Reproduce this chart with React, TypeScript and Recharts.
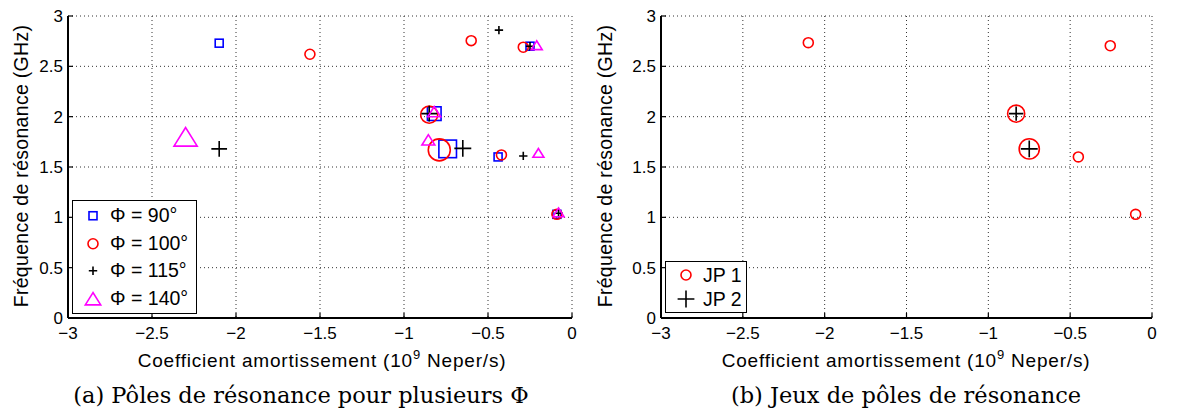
import { ScatterChart, Scatter, XAxis, YAxis, ZAxis, CartesianGrid } from "recharts"

// x: amortissement (10^9 Neper/s), y: fréquence (GHz), a: poids du pôle (taille du marqueur)
const phi90 = [
  { x: -2.1, y: 2.73, a: 1 },
  { x: -0.82, y: 2.03, a: 2 },
  { x: -0.74, y: 1.68, a: 3 },
  { x: -0.44, y: 1.6, a: 1 },
  { x: -0.25, y: 2.7, a: 1 },
  { x: -0.09, y: 1.03, a: 1 },
]
const phi100 = [
  { x: -1.56, y: 2.62, a: 1 },
  { x: -0.6, y: 2.755, a: 1 },
  { x: -0.29, y: 2.69, a: 1 },
  { x: -0.85, y: 2.02, a: 2 },
  { x: -0.79, y: 1.67, a: 3 },
  { x: -0.42, y: 1.62, a: 1 },
  { x: -0.09, y: 1.03, a: 1 },
]
const phi115 = [
  { x: -0.435, y: 2.86, a: 1 },
  { x: -0.25, y: 2.7, a: 1 },
  { x: -0.85, y: 2.03, a: 2.3 },
  { x: -2.1, y: 1.68, a: 2.3 },
  { x: -0.65, y: 1.685, a: 2.6 },
  { x: -0.29, y: 1.61, a: 1 },
  { x: -0.08, y: 1.04, a: 1 },
]
const phi140 = [
  { x: -2.3, y: 1.8, a: 2.8 },
  { x: -0.21, y: 2.71, a: 1 },
  { x: -0.82, y: 2.05, a: 1.2 },
  { x: -0.855, y: 1.77, a: 1.2 },
  { x: -0.2, y: 1.64, a: 1 },
  { x: -0.08, y: 1.05, a: 1 },
]
const jp1 = [
  { x: -2.1, y: 2.735, a: 1 },
  { x: -0.255, y: 2.705, a: 1 },
  { x: -0.83, y: 2.03, a: 2 },
  { x: -0.75, y: 1.68, a: 2.6 },
  { x: -0.45, y: 1.6, a: 1 },
  { x: -0.1, y: 1.03, a: 1 },
]
const jp2 = [
  { x: -0.83, y: 2.03, a: 2 },
  { x: -0.75, y: 1.68, a: 2.6 },
]

const xTicks = [-3, -2.5, -2, -1.5, -1, -0.5, 0]
const yTicks = [0, 0.5, 1, 1.5, 2, 2.5, 3]

const xLabel = "Coefficient amortissement (10"
const yLabel = "Fréquence de résonance (GHz)"

const BLUE = "#0000ff"
const RED = "#ff0000"
const BLACK = "#000000"
const MAGENTA = "#ff00ff"

const sans = "'Liberation Sans', Arial, sans-serif"
const serif = "'DejaVu Serif', serif"

function Marker({ cx, cy, d, kind, color }: any) {
  const sw = 1.6
  if (kind === "circle")
    return <circle cx={cx} cy={cy} r={d / 2} fill="none" stroke={color} strokeWidth={sw} />
  if (kind === "square") {
    const s = d * 0.8
    return <rect x={cx - s / 2} y={cy - s / 2} width={s} height={s} fill="none" stroke={color} strokeWidth={sw} />
  }
  if (kind === "plus") {
    const h = d * 0.42
    return <path d={`M${cx - h},${cy}H${cx + h}M${cx},${cy - h}V${cy + h}`} stroke={color} strokeWidth={sw} />
  }
  const w = d * 1.1
  const h = w * 0.8
  return (
    <polygon
      points={`${cx},${cy - h / 2} ${cx - w / 2},${cy + h / 2} ${cx + w / 2},${cy + h / 2}`}
      fill="none"
      stroke={color}
      strokeWidth={sw}
    />
  )
}

const shapeOf = (kind: string, color: string) => (p: any) => {
  const d = p.width ?? (p.size ? Math.sqrt(p.size / Math.PI) * 2 : 10)
  return <Marker cx={p.cx} cy={p.cy} d={d} kind={kind} color={color} />
}

const fmt = (v: number) => (v < 0 ? "\u2212" + Math.abs(v) : String(v))

function Plot({ width, yWidth, right, children }: any) {
  return (
    <ScatterChart width={width} height={352} margin={{ top: 16, right, bottom: 0, left: 0 }}>
      <CartesianGrid strokeDasharray="1 3" stroke="#333" />
      <XAxis
        type="number"
        dataKey="x"
        domain={[-3, 0]}
        ticks={xTicks}
        interval={0}
        height={34}
        tickFormatter={fmt}
        tickSize={-5}
        tickMargin={14}
        axisLine={{ stroke: "#000", strokeWidth: 2 }}
        tickLine={{ stroke: "#000", strokeWidth: 1.2 }}
        tick={{ fill: "#000", fontSize: 17, fontFamily: sans }}
      />
      <XAxis
        xAxisId="t"
        orientation="top"
        type="number"
        domain={[-3, 0]}
        ticks={xTicks}
        interval={0}
        height={0}
        tickSize={-5}
        axisLine={{ stroke: "#000", strokeWidth: 2 }}
        tickLine={{ stroke: "#000", strokeWidth: 1.2 }}
        tick={{ fill: "none", fontSize: 1 }}
      />
      <YAxis
        type="number"
        dataKey="y"
        domain={[0, 3]}
        ticks={yTicks}
        interval={0}
        width={yWidth}
        tickFormatter={fmt}
        tickSize={-5}
        tickMargin={10}
        axisLine={{ stroke: "#000", strokeWidth: 2 }}
        tickLine={{ stroke: "#000", strokeWidth: 1.2 }}
        tick={{ fill: "#000", fontSize: 17, fontFamily: sans }}
      />
      <YAxis
        yAxisId="r"
        orientation="right"
        type="number"
        domain={[0, 3]}
        ticks={yTicks}
        interval={0}
        width={0}
        tickSize={-5}
        axisLine={{ stroke: "#000", strokeWidth: 2 }}
        tickLine={{ stroke: "#000", strokeWidth: 1.2 }}
        tick={{ fill: "none", fontSize: 1 }}
      />
      <ZAxis type="number" dataKey="a" domain={[1, 3]} range={[78, 380]} />
      {children}
    </ScatterChart>
  )
}

function LegendBox({ left, top, width, rowH, items }: any) {
  return (
    <div
      style={{
        position: "absolute",
        left,
        top,
        width,
        border: "1.5px solid #000",
        background: "#fff",
        padding: "1px 0",
        fontFamily: sans,
        fontSize: 19.5,
      }}
    >
      {items.map((it: any) => (
        <div key={it.label} style={{ display: "flex", alignItems: "center", height: rowH }}>
          <svg width={37} height={rowH} style={{ flex: "none" }}>
            <Marker cx={20} cy={rowH / 2} d={it.d} kind={it.kind} color={it.color} />
          </svg>
          <span style={{ whiteSpace: "nowrap" }}>{it.label}</span>
        </div>
      ))}
    </div>
  )
}

const legendA = [
  { label: "Φ = 90°", kind: "square", color: BLUE, d: 10 },
  { label: "Φ = 100°", kind: "circle", color: RED, d: 10 },
  { label: "Φ = 115°", kind: "plus", color: BLACK, d: 10 },
  { label: "Φ = 140°", kind: "triangle", color: MAGENTA, d: 14 },
]
const legendB = [
  { label: "JP 1", kind: "circle", color: RED, d: 10 },
  { label: "JP 2", kind: "plus", color: BLACK, d: 20 },
]

function Text({ x, y, rotate, font, size, spacing, children }: any) {
  return (
    <div
      style={{
        position: "absolute",
        left: x,
        top: y,
        transform: `translate(-50%, -50%)${rotate ? " rotate(-90deg)" : ""}`,
        whiteSpace: "nowrap",
        fontFamily: font,
        fontSize: size,
        letterSpacing: spacing ?? 0,
        color: "#000",
        lineHeight: 1,
      }}
    >
      {children}
    </div>
  )
}

export default function App() {
  return (
    <div style={{ position: "absolute", left: 0, top: 0, width: 1177, height: 410, background: "#fff" }}>
      <div style={{ position: "absolute", left: 0, top: 0 }}>
        <Plot width={600} yWidth={68} right={28}>
          <Scatter data={phi90} isAnimationActive={false} shape={shapeOf("square", BLUE)} />
          <Scatter data={phi100} isAnimationActive={false} shape={shapeOf("circle", RED)} />
          <Scatter data={phi115} isAnimationActive={false} shape={shapeOf("plus", BLACK)} />
          <Scatter data={phi140} isAnimationActive={false} shape={shapeOf("triangle", MAGENTA)} />
        </Plot>
      </div>
      <div style={{ position: "absolute", left: 590, top: 0 }}>
        <Plot width={587} yWidth={71} right={25}>
          <Scatter data={jp1} isAnimationActive={false} shape={shapeOf("circle", RED)} />
          <Scatter data={jp2} isAnimationActive={false} shape={shapeOf("plus", BLACK)} />
        </Plot>
      </div>

      <LegendBox left={72} top={200} width={123} rowH={27.5} items={legendA} />
      <LegendBox left={665} top={261} width={80} rowH={24} items={legendB} />

      <Text x={22} y={166} rotate font={sans} size={19.5} spacing={0.3}>{yLabel}</Text>
      <Text x={606} y={166} rotate font={sans} size={19.5} spacing={0.3}>{yLabel}</Text>
      <Text x={322} y={359} font={sans} size={19} spacing={0.8}>
        {xLabel}<sup style={{ fontSize: 13 }}>9</sup> Neper/s)
      </Text>
      <Text x={906} y={359} font={sans} size={19} spacing={0.8}>
        {xLabel}<sup style={{ fontSize: 13 }}>9</sup> Neper/s)
      </Text>
      <Text x={301} y={395} font={serif} size={22.5}>(a) Pôles de résonance pour plusieurs Φ</Text>
      <Text x={906} y={395} font={serif} size={22.5}>(b) Jeux de pôles de résonance</Text>
    </div>
  )
}
